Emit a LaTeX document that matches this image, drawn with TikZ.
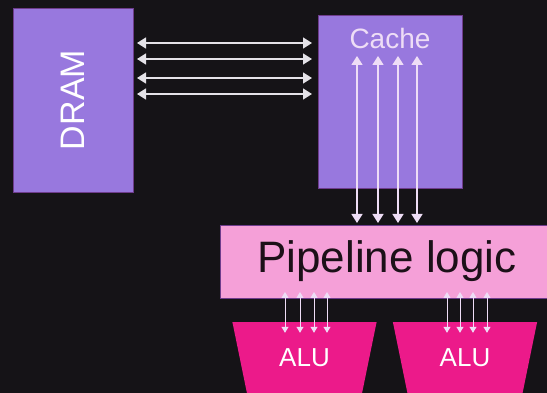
\documentclass[tikz,border=0pt]{standalone}
\usepackage{fontspec}
\setmainfont{Liberation Sans}
\usetikzlibrary{arrows.meta,calc,positioning,shapes.geometric}
\definecolor{bgdark}{HTML}{151317}
\definecolor{mempurple}{HTML}{9878DE}
\definecolor{blockedge}{HTML}{6E3C8C}
\definecolor{pipepink}{HTML}{F5A0D8}
\definecolor{alupink}{HTML}{EC1A8A}
\definecolor{wire}{HTML}{E4E2E8}
\definecolor{wirelight}{HTML}{EEDDF6}
\definecolor{pipetext}{HTML}{1C1018}
\tikzset{
	block/.style={draw=blockedge, line width=.8pt, fill=#1, inner sep=0pt, outer sep=0pt},
	bus/.style={line width=1.5pt, draw=#1,
		{Triangle[width=11pt,length=9pt]}-{Triangle[width=11pt,length=9pt]}},
	bus/.default=wire,
	bus small/.style={line width=1pt, draw=wirelight,
		{Triangle[width=7pt,length=6pt]}-{Triangle[width=7pt,length=6pt]}},
	alu/.style={trapezium, shape border rotate=180, trapezium angle=70.6,
		trapezium stretches=true, minimum width=145pt, minimum height=71pt,
		fill=alupink, inner sep=0pt, text=white, font=\fontsize{26}{26}\selectfont}
}

\begin{document}
\begin{tikzpicture}[x=1pt, y=-1pt]
  \fill[bgdark] (0,0) rectangle (547,393);
  \useasboundingbox (0,0) rectangle (547,393);
  % memory side
  \node[block=mempurple, rotate=90, minimum width=184pt, minimum height=120pt,
  	text=white, font=\fontsize{34}{34}\selectfont] (DRAM) at (73,100) {DRAM};
  \node[block=mempurple, minimum width=144pt, minimum height=173pt] (Cache) at (390,101.5) {};
  \node[below=11pt of Cache.north, inner sep=2pt, text=wirelight,
  	font=\fontsize{28}{28}\selectfont] (cachelbl) {Cache};
  % core side
  \node[block=pipepink, minimum width=334pt, minimum height=73pt, text=pipetext,
  	font=\fontsize{44}{44}\selectfont] (Pipe) at (387,261.5) {Pipeline logic};
  \node[alu] (ALUa) at (304.5,357.5) {ALU};
  \node[alu] (ALUb) at (465,357.5) {ALU};
  % buses (DRAM is turned, so its right side is .south)
  \foreach \y in {43,59,78,94}
  	\draw[bus, shorten <=4pt, shorten >=6pt] (DRAM.south |- 0,\y) -- (Cache.west |- 0,\y);
  \foreach \x in {357,378,398,417}
  	\draw[bus=wirelight, shorten <=5pt, shorten >=2pt] (cachelbl.south -| \x,0) -- (Pipe.north -| \x,0);
  \foreach \x in {285,300,314,327}
  	\draw[bus small, shorten <=-6pt, shorten >=-11pt] (Pipe.south -| \x,0) -- (ALUa.north -| \x,0);
  \foreach \x in {447,460,473,487}
  	\draw[bus small, shorten <=-6pt, shorten >=-11pt] (Pipe.south -| \x,0) -- (ALUb.north -| \x,0);
\end{tikzpicture}
\end{document}
